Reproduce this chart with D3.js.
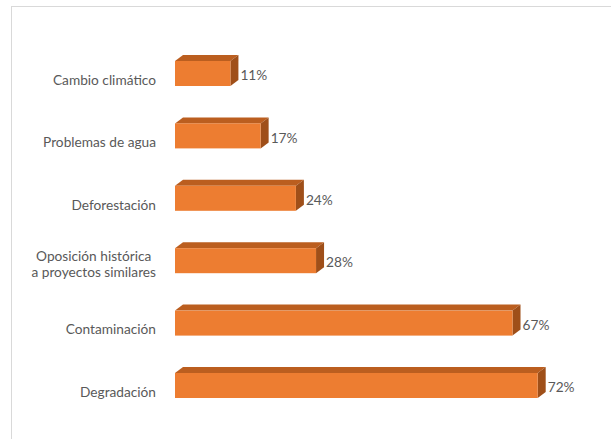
<!DOCTYPE html>
<html>
<head>
<meta charset="utf-8">
<script src="https://cdn.jsdelivr.net/npm/d3@7"></script>
<style>
  body { margin: 0; background: #fff; }
  svg { display: block; }
  text { font-family: Lato, "Open Sans", sans-serif; font-size: 13.7px; fill: #595959; }
</style>
</head>
<body>
<svg id="chart" width="611" height="439"></svg>
<script>
// data
var categories = ["Cambio climático", "Problemas de agua", "Deforestación",
                  "Oposición histórica\na proyectos similares", "Contaminación", "Degradación"];
var values = [11, 17, 24, 28, 67, 72];
var valueLabels = ["11%", "17%", "24%", "28%", "67%", "72%"];

var svg = d3.select("#chart");

// chart border
svg.append("rect")
    .attr("x", 11.5).attr("y", 6.5)
    .attr("width", 640).attr("height", 460)
    .attr("fill", "none")
    .attr("stroke", "#d9d9d9");

// scales
var x = d3.scaleLinear()
    .domain([0, 80])
    .range([175, 578]);

var y = d3.scalePoint()
    .domain(categories)
    .range([73.5, 385.5]);

var barH = 25, depthX = 8, depthY = 6;

var bars = svg.selectAll(".bar")
    .data(categories)
  .enter().append("g")
    .attr("class", "bar");

// top face
bars.append("path")
    .attr("fill", "#bb5e1f")
    .attr("d", function(d, i) {
      var x0 = x(0), x1 = x(values[i]), yt = y(d) - barH / 2;
      return "M" + x0 + "," + yt + "L" + (x0 + depthX) + "," + (yt - depthY) +
             "L" + (x1 + depthX) + "," + (yt - depthY) + "L" + x1 + "," + yt + "Z";
    });

// side face
bars.append("path")
    .attr("fill", "#9f4f19")
    .attr("d", function(d, i) {
      var x1 = x(values[i]), yt = y(d) - barH / 2, yb = yt + barH;
      return "M" + x1 + "," + yt + "L" + (x1 + depthX) + "," + (yt - depthY) +
             "L" + (x1 + depthX) + "," + (yb - depthY) + "L" + x1 + "," + yb + "Z";
    });

// front face
bars.append("rect")
    .attr("fill", "#ed7d31")
    .attr("x", x(0))
    .attr("y", function(d) { return y(d) - barH / 2; })
    .attr("width", function(d, i) { return x(values[i]) - x(0); })
    .attr("height", barH);

// value labels
bars.append("text")
    .attr("x", function(d, i) { return x(values[i]) + depthX + 2; })
    .attr("y", function(d) { return y(d) + 2; })
    .attr("dy", "0.35em")
    .text(function(d, i) { return valueLabels[i]; });

// category labels
var labelRight = 156;
svg.selectAll(".cat")
    .data(categories)
  .enter().append("text")
    .attr("class", "cat")
    .each(function(d) {
      var t = d3.select(this), lines = d.split("\n"), lh = 15.5;
      var cy = y(d) + (lines.length > 1 ? 3.5 : 6.5);
      lines.forEach(function(line, k) {
        t.append("tspan")
          .attr("y", cy + (k - (lines.length - 1) / 2) * lh)
          .attr("dy", "0.35em")
          .text(line);
      });
      var w = d3.max(t.selectAll("tspan").nodes(), function(n) { return n.getComputedTextLength(); });
      t.selectAll("tspan")
        .attr("x", lines.length > 1 ? labelRight - w / 2 : labelRight)
        .attr("text-anchor", lines.length > 1 ? "middle" : "end");
    });
</script>
</body>
</html>
